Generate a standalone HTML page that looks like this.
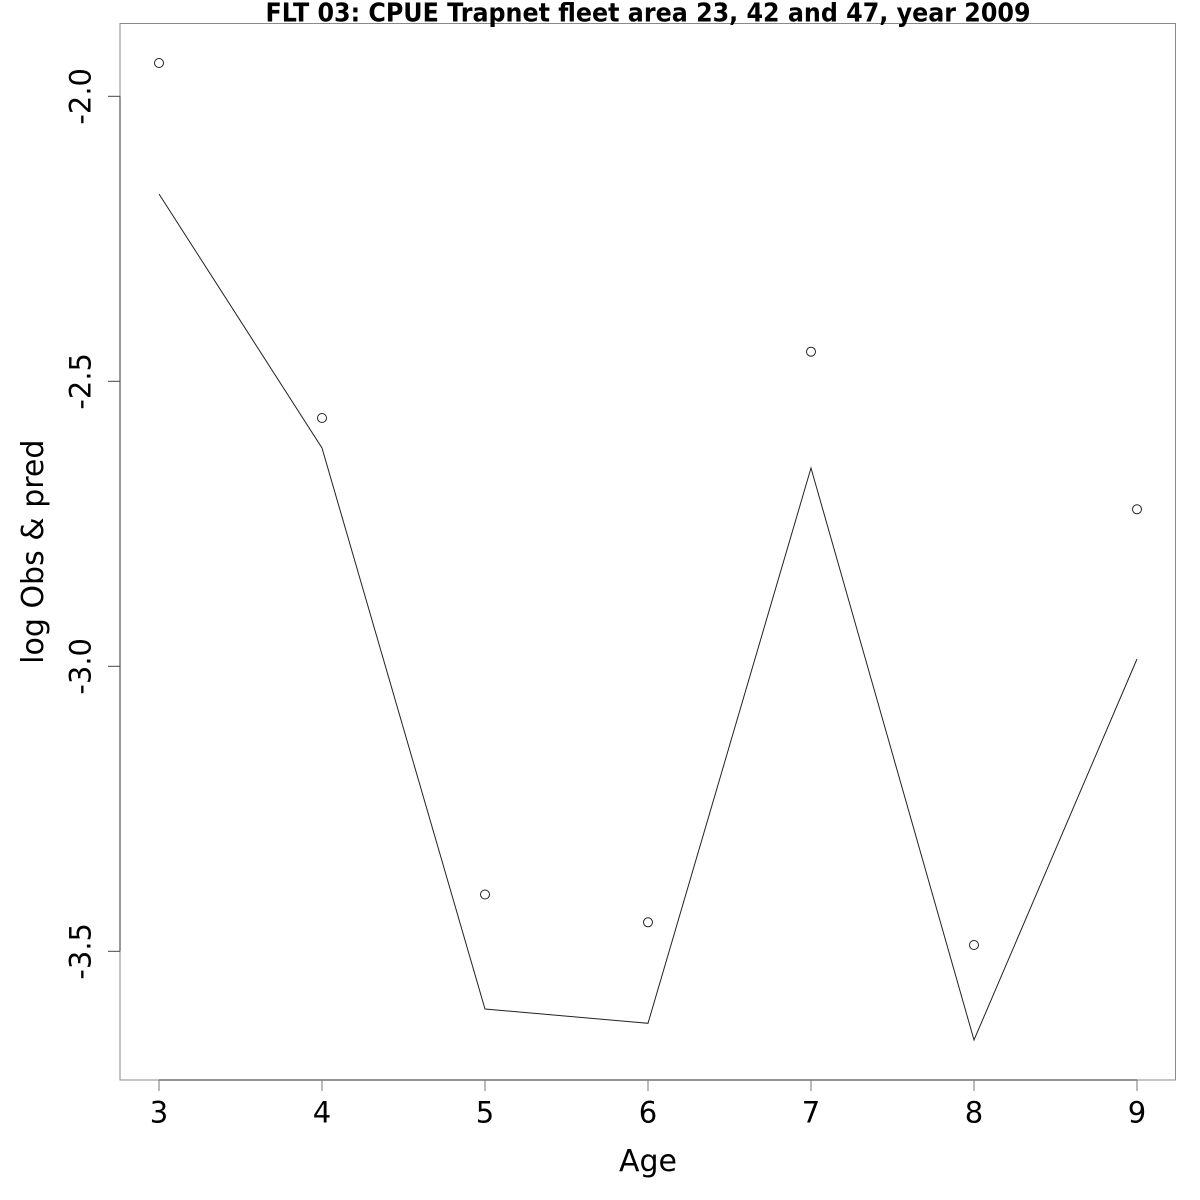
<!DOCTYPE html>
<html>
<head>
<meta charset="utf-8">
<style>
html,body{margin:0;padding:0;background:#fff;}
svg{display:block;}
text{font-family:"DejaVu Sans","Liberation Sans",sans-serif;fill:#000;}
</style>
</head>
<body>
<svg width="1200" height="1200" viewBox="0 0 1200 1200" xmlns="http://www.w3.org/2000/svg">
<rect x="0" y="0" width="1200" height="1200" fill="#fff"/>
<!-- plot box -->
<rect x="120" y="23.5" width="1055.5" height="1056.5" fill="none" stroke="#8a8a8a" stroke-width="1"/>
<!-- axes -->
<line x1="120" y1="96.3" x2="120" y2="951.3" stroke="#555" stroke-width="1.2"/>
<line x1="159" y1="1080" x2="1137" y2="1080" stroke="#555" stroke-width="1.2"/>
<!-- y ticks -->
<g stroke="#444" stroke-width="1">
<line x1="108" y1="96.3" x2="120" y2="96.3"/>
<line x1="108" y1="381.3" x2="120" y2="381.3"/>
<line x1="108" y1="666.3" x2="120" y2="666.3"/>
<line x1="108" y1="951.3" x2="120" y2="951.3"/>
</g>
<!-- x ticks -->
<g stroke="#777" stroke-width="1">
<line x1="159" y1="1080" x2="159" y2="1091"/>
<line x1="322" y1="1080" x2="322" y2="1091"/>
<line x1="485" y1="1080" x2="485" y2="1091"/>
<line x1="648" y1="1080" x2="648" y2="1091"/>
<line x1="811" y1="1080" x2="811" y2="1091"/>
<line x1="974" y1="1080" x2="974" y2="1091"/>
<line x1="1137" y1="1080" x2="1137" y2="1091"/>
</g>
<!-- x tick labels -->
<g font-size="29" text-anchor="middle">
<text x="159" y="1122.5">3</text>
<text x="322" y="1122.5">4</text>
<text x="485" y="1122.5">5</text>
<text x="648" y="1122.5">6</text>
<text x="811" y="1122.5">7</text>
<text x="974" y="1122.5">8</text>
<text x="1137" y="1122.5">9</text>
</g>
<!-- y tick labels -->
<g font-size="29" text-anchor="middle">
<text x="90.5" y="96.3" transform="rotate(-90 90.5 96.3)">-2.0</text>
<text x="90.5" y="381.3" transform="rotate(-90 90.5 381.3)">-2.5</text>
<text x="90.5" y="666.3" transform="rotate(-90 90.5 666.3)">-3.0</text>
<text x="90.5" y="951.3" transform="rotate(-90 90.5 951.3)">-3.5</text>
</g>
<!-- axis labels -->
<text x="648" y="1171" font-size="30" text-anchor="middle">Age</text>
<text x="43" y="551.7" font-size="30" text-anchor="middle" transform="rotate(-90 43 551.7)">log Obs &amp; pred</text>
<!-- title -->
<text x="265.5" y="21.7" font-size="26" font-weight="bold" textLength="765" lengthAdjust="spacingAndGlyphs">FLT 03: CPUE Trapnet fleet area 23, 42 and 47, year 2009</text>
<!-- predicted line -->
<polyline points="159,194 322,448 485,1009 648,1023.3 811,468 974,1040 1137,659" fill="none" stroke="#222" stroke-width="1"/>
<!-- observed points -->
<g fill="none" stroke="#222" stroke-width="1">
<circle cx="159" cy="63" r="4.5"/>
<circle cx="322" cy="418" r="4.5"/>
<circle cx="485" cy="894.5" r="4.5"/>
<circle cx="648" cy="922.3" r="4.5"/>
<circle cx="811" cy="351.7" r="4.5"/>
<circle cx="974" cy="945" r="4.5"/>
<circle cx="1137" cy="509.3" r="4.5"/>
</g>
</svg>
</body>
</html>
